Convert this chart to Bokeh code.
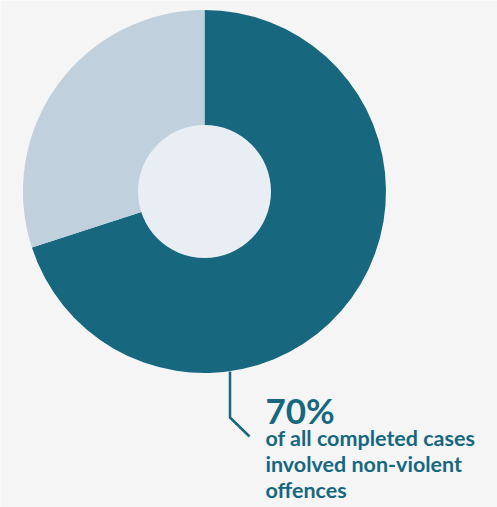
import math
from bokeh.plotting import figure
from bokeh.models import ColumnDataSource, Range1d
from bokeh.core.properties import value
from bokeh.embed import file_html
from bokeh.resources import INLINE

# ---- data ----
categories = ["Non-violent offences", "Other offences"]
shares = [70, 30]
colors = ["#17677f", "#c0d0dd"]
caption_lines = ["of all completed cases", "involved non-violent", "offences"]

# ---- style / layout ----
BG = "#f4f5f4"
INNER = "#e9eef5"
TEXT = "#17677f"
W, H = 497, 507

def py(page_y):
    # convert page-pixel y to data y (y axis points up)
    return H - page_y

cx, cy = 204, py(191)
R_OUT, R_IN = 181.5, 66.5

# wedge angles: start at top, go clockwise
total = sum(shares)
starts, ends = [], []
a = math.pi / 2
for s in shares:
    starts.append(a)
    a = a - 2 * math.pi * s / total
    ends.append(a)

src = ColumnDataSource(dict(cat=categories, share=shares, color=colors,
                            start=starts, end=ends))

p = figure(width=W, height=H, output_backend="svg", toolbar_location=None,
           x_range=Range1d(0, W), y_range=Range1d(0, H),
           min_border=0, background_fill_color=BG, border_fill_color=BG,
           outline_line_color=None)
p.axis.visible = False
p.grid.visible = False

p.wedge(x=cx, y=cy, radius=R_OUT, start_angle="start", end_angle="end",
        direction="clock", fill_color="color", line_color=None, source=src)
p.circle(x=[cx], y=[cy], radius=R_IN, fill_color=INNER, line_color=None)

# leader line
p.line(x=[229.5, 229.5, 249], y=[py(371), py(417), py(436)],
       line_color=TEXT, line_width=2.5)

# headline
p.text(x=[265], y=[py(409)], text=[f"{shares[0]}%"], text_color=TEXT,
       text_font=value("Lato"), text_font_style="bold", text_font_size="35px",
       text_baseline="alphabetic", text_align="left")

# caption lines
cap_y = [py(437), py(463), py(489)]
p.text(x=[265] * 3, y=cap_y, text=caption_lines, text_color=TEXT,
       text_font=value("Lato"), text_font_style="bold", text_font_size="21.5px",
       text_baseline="alphabetic", text_align="left")

open("out.html", "w").write(file_html(p, INLINE))
